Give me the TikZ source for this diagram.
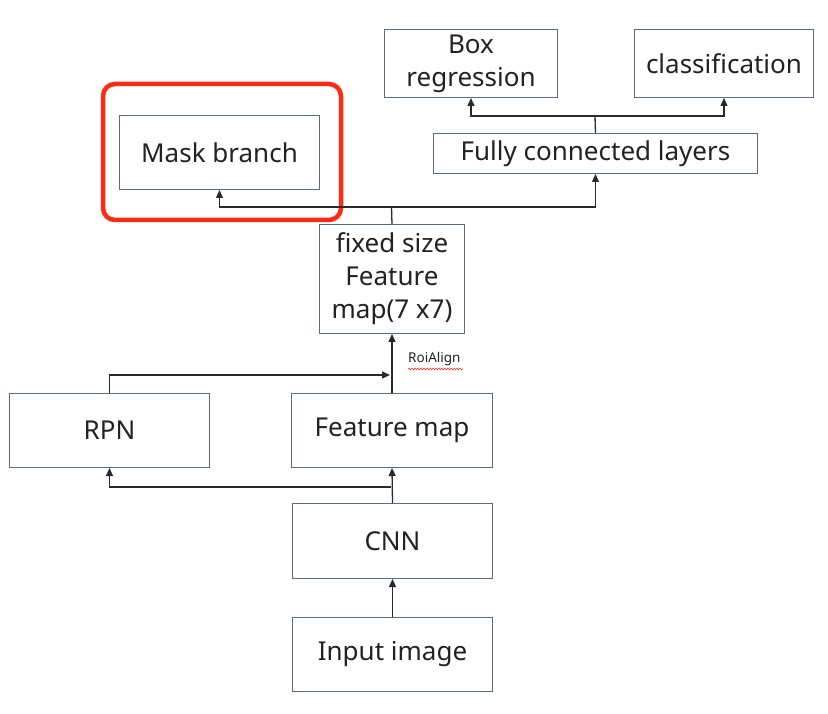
\documentclass[tikz,border=0pt]{standalone}
\usepackage{fontspec}
\setmainfont{Noto Sans}
\usetikzlibrary{arrows.meta,decorations.pathmorphing}
\definecolor{boxline}{HTML}{5A6A90}
\definecolor{txt}{HTML}{222222}
\definecolor{wire}{HTML}{2A2A2A}
\definecolor{hl}{HTML}{FF2A14}
\tikzset{
  stage/.style={draw=boxline, line width=1pt, anchor=north west, inner sep=0pt,
    align=center, text=txt, font=\fontsize{26}{33}\selectfont},
  wirearrow/.style={draw=wire, line width=1.3pt, -{Triangle[length=8pt,width=7pt]}},
  wireline/.style={draw=wire, line width=1.3pt}
}
\begin{document}
\begin{tikzpicture}[x=1pt,y=-1pt]
\useasboundingbox (0,0) rectangle (828,714);
\node[stage, minimum width=173pt, minimum height=68pt] (box) at (384,29) {Box\\regression};
\node[stage, minimum width=179pt, minimum height=68pt] (cls) at (634,29) {classification};
\node[stage, minimum width=324pt, minimum height=40pt] (fc) at (433,133) {Fully connected layers};
\node[stage, minimum width=200pt, minimum height=74pt] (mask) at (119,115) {Mask branch};
\node[stage, minimum width=145pt, minimum height=109pt] (fix) at (319,224) {fixed size\\Feature\\map(7 x7)};
\node[stage, minimum width=200pt, minimum height=74pt] (rpn) at (9,393) {RPN};
\node[stage, minimum width=201pt, minimum height=74pt] (feat) at (291,393) {Feature map};
\node[stage, minimum width=200pt, minimum height=75pt] (cnn) at (292,503) {CNN};
\node[stage, minimum width=200pt, minimum height=74pt] (inp) at (292,617) {Input image};
\draw[hl, line width=4.5pt, rounded corners=12pt] (103,84) rectangle (341,220);
\node[anchor=west, inner sep=0pt, font=\fontsize{13.5}{16}\selectfont, text=txt] (roi) at (408,359) {RoiAlign};
\draw[hl, line width=0.6pt, decorate, decoration={snake, amplitude=0.9pt, segment length=3pt}] (roi.south west) ++(0,3) -- ++(55,0);
% connectors
\coordinate (j1) at (391,487);
\coordinate (j2) at (390,375);
\coordinate (j3) at (391.5,207);
\coordinate (j4) at (595,116);
\draw[wirearrow] (inp.north) -- (cnn.south);
\draw[wirearrow] (cnn.north) -- (feat.south);
\draw[wirearrow] (j1) -| (rpn.south);
\draw[wirearrow] (feat.north) -- (fix.south);
\draw[wirearrow] (rpn.north) |- (j2);
\draw[wireline] (fix.north) -- (j3);
\draw[wirearrow] (j3) -| (mask.south);
\draw[wirearrow] (j3) -| (fc.south);
\draw[wireline] (fc.north) -- (j4);
\draw[wirearrow] (j4) -| (box.south);
\draw[wirearrow] (j4) -| (cls.south);
\end{tikzpicture}
\end{document}
